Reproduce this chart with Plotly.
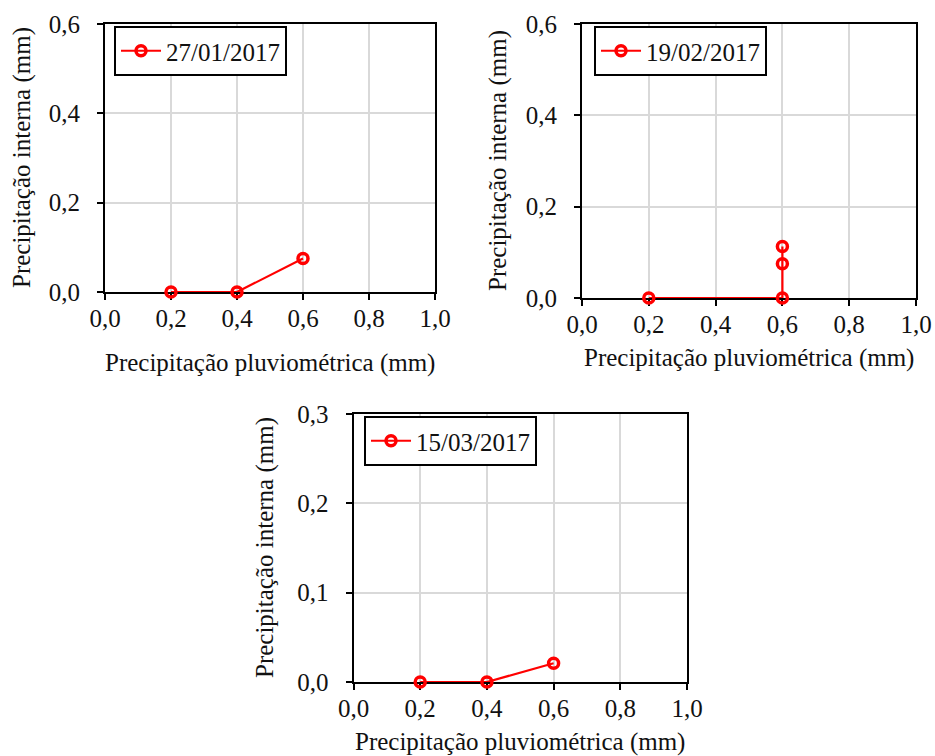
import plotly.graph_objects as go

# Data
labels = ["27/01/2017", "19/02/2017", "15/03/2017"]
x1 = [0.2, 0.4, 0.6]
y1 = [0.0, 0.0, 0.075]
x2 = [0.2, 0.6, 0.6, 0.6]
y2 = [0.0, 0.0, 0.075, 0.113]
x3 = [0.2, 0.4, 0.6]
y3 = [0.0, 0.0, 0.021]
x_ticks = [0.0, 0.2, 0.4, 0.6, 0.8, 1.0]
y_ticks_a = [0.0, 0.2, 0.4, 0.6]
y_ticks_b = [0.0, 0.1, 0.2, 0.3]
x_title = "Precipitação pluviométrica (mm)"
y_title = "Precipitação interna (mm)"

W, H = 935, 756
FONT = "Liberation Serif, Times New Roman, serif"
RED = "#ff0000"
TXT = "#111111"

def px(v):
    return v / W

def py(v):
    return 1 - v / H

fig = go.Figure()
datasets = [(x1, y1, labels[0], "x", "y", "legend"),
            (x2, y2, labels[1], "x2", "y2", "legend2"),
            (x3, y3, labels[2], "x3", "y3", "legend3")]
for xs, ys, name, xa, ya, lg in datasets:
    fig.add_trace(go.Scatter(
        x=xs, y=ys, name=name, xaxis=xa, yaxis=ya, legend=lg,
        mode="lines+markers", cliponaxis=False,
        line=dict(color=RED, width=2.2),
        marker=dict(symbol="circle-open", size=10, color=RED, line=dict(width=3.5, color=RED)),
        showlegend=True,
    ))

def xaxis(domain, anchor):
    return dict(domain=domain, anchor=anchor, range=[0, 1.0], tickvals=x_ticks,
                tickformat=".1f", showline=True, linewidth=2, linecolor="black", mirror=True,
                ticks="outside", ticklen=6, tickwidth=2, tickcolor="black",
                showgrid=True, gridcolor="#d9d9d9", gridwidth=1.5, zeroline=False,
                automargin=False, ticklabelstandoff=-3, layer="below traces",
                tickfont=dict(family=FONT, size=25, color=TXT))

def yaxis(domain, anchor, rng, tv):
    return dict(domain=domain, anchor=anchor, range=rng, tickvals=tv,
                tickformat=".1f", showline=True, linewidth=2, linecolor="black", mirror=True,
                ticks="outside", ticklen=6, tickwidth=2, tickcolor="black",
                showgrid=True, gridcolor="#d9d9d9", gridwidth=1.5, zeroline=False,
                automargin=False, ticklabelstandoff=12, layer="below traces",
                tickfont=dict(family=FONT, size=25, color=TXT))

def legend(xpos, ypos):
    return dict(x=px(xpos), y=py(ypos), xanchor="left", yanchor="top",
                bgcolor="white", bordercolor="black", borderwidth=2,
                font=dict(family=FONT, size=25, color=TXT), itemwidth=40,
                tracegroupgap=0)

# axis-title positions (pixel centres)
x_title_pos = [(270, 363), (749, 358), (520, 742)]
y_title_pos = [(22, 158), (498, 161), (265, 548)]

annotations = []
for (cx, cy) in x_title_pos:
    annotations.append(dict(text=x_title, x=px(cx), y=py(cy), xref="paper", yref="paper",
                            xanchor="center", yanchor="middle", showarrow=False,
                            font=dict(family=FONT, size=25, color=TXT)))
for (cx, cy) in y_title_pos:
    annotations.append(dict(text=y_title, x=px(cx), y=py(cy), xref="paper", yref="paper",
                            xanchor="center", yanchor="middle", showarrow=False, textangle=-90,
                            font=dict(family=FONT, size=25, color=TXT)))

fig.update_layout(
    width=W, height=H, margin=dict(l=0, r=0, t=0, b=0),
    paper_bgcolor="white", plot_bgcolor="white",
    separators=", ",
    xaxis=xaxis([px(105), px(435)], "y"),
    yaxis=yaxis([py(292), py(24)], "x", [0, 0.6], y_ticks_a),
    xaxis2=xaxis([px(582), px(916)], "y2"),
    yaxis2=yaxis([py(298), py(24)], "x2", [0, 0.6], y_ticks_a),
    xaxis3=xaxis([px(353.5), px(687)], "y3"),
    yaxis3=yaxis([py(682), py(414)], "x3", [0, 0.3], y_ticks_b),
    legend=legend(114, 26),
    legend2=legend(594, 26),
    legend3=legend(364, 416),
    annotations=annotations,
)

fig.write_html("out.html")
